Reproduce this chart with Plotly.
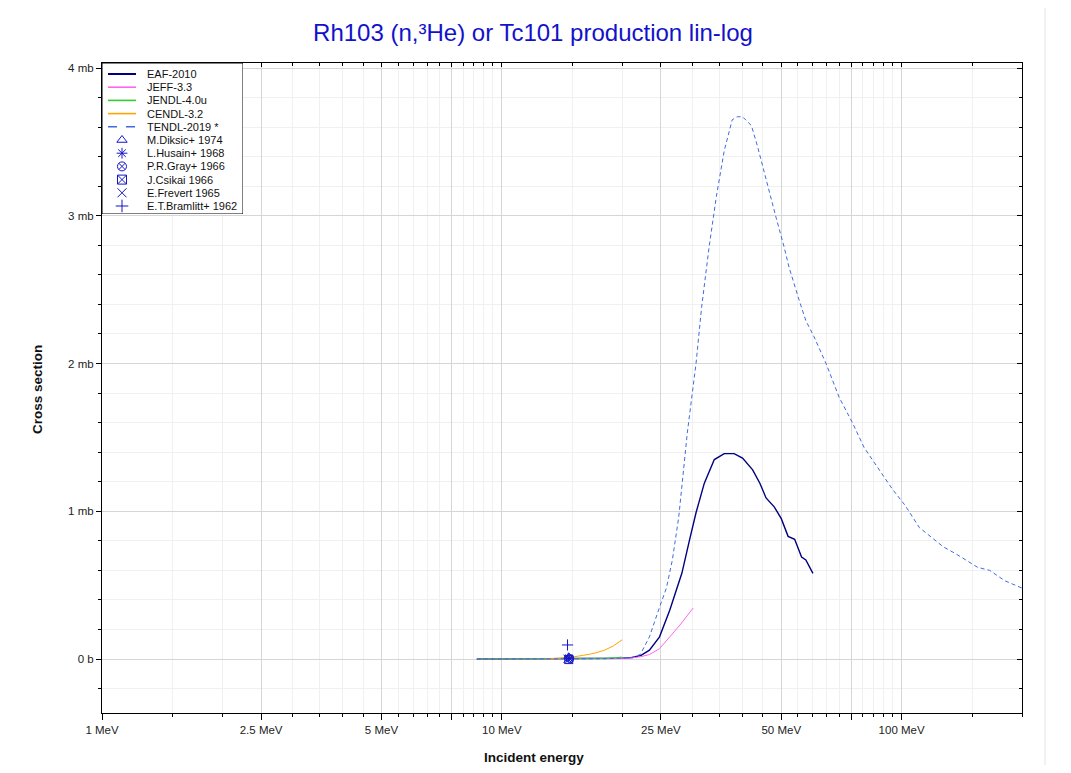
import math
import plotly.graph_objects as go

# ---------------- data (energies in MeV, cross sections in mb) ----------------
eaf_e = [8.66, 10, 12, 14, 16, 18, 20, 21.2, 22.3, 23.4, 24.8, 26.3, 27.0, 28.2, 29.5, 30.6,
         32.1, 34.0, 36.0, 38.1, 40.0, 42.4, 44.2, 45.8, 48.0, 50.0, 52.0, 54.0, 56.2, 57.6, 60.0]
eaf_s = [0, 0, 0, 0.0005, 0.001, 0.002, 0.005, 0.01, 0.025, 0.06, 0.15, 0.33, 0.42, 0.58, 0.81, 0.99,
         1.19, 1.35, 1.39, 1.39, 1.36, 1.28, 1.19, 1.09, 1.03, 0.95, 0.83, 0.81, 0.69, 0.67, 0.58]

jeff_e = [8.66, 10, 12, 14, 16, 18, 20, 21.2, 22.2, 23.4, 24.8, 26.3, 27.9, 30.1]
jeff_s = [0, 0, 0, 0.0005, 0.001, 0.002, 0.004, 0.008, 0.015, 0.03, 0.07, 0.15, 0.23, 0.345]

jendl_e = [8.66, 10, 12, 14, 16, 18, 19, 20]
jendl_s = [0, 0, 0, 0.0005, 0.002, 0.005, 0.008, 0.013]

cendl_e = [13, 14, 15, 16, 17, 18, 19, 20]
cendl_s = [0, 0.005, 0.013, 0.025, 0.038, 0.058, 0.088, 0.13]

tendl_e = [8.66, 10, 12, 14, 16, 18, 20, 21.2, 22.2, 23.4, 24.8, 25.8, 26.7, 27.7, 29.1, 30.6,
           31.6, 33.0, 34.4, 36.0, 37.7, 38.8, 40.0, 42.1, 43.6, 45.8, 48.5, 50.8, 52.3, 55.4,
           57.6, 60.4, 64.7, 69.8, 75.3, 80.6, 87.5, 94.8, 102, 110.7, 127, 137, 155, 166, 181, 200]
tendl_s = [0, 0, 0, 0.0005, 0.001, 0.002, 0.006, 0.012, 0.03, 0.15, 0.35, 0.48, 0.67, 0.96, 1.53, 2.00,
           2.38, 2.79, 3.13, 3.44, 3.65, 3.67, 3.67, 3.61, 3.47, 3.24, 2.99, 2.79, 2.65, 2.43,
           2.29, 2.18, 2.00, 1.77, 1.60, 1.43, 1.29, 1.15, 1.04, 0.89, 0.76, 0.71, 0.62, 0.60, 0.53, 0.48]

exp_names = ["M.Diksic+ 1974", "L.Husain+ 1968", "P.R.Gray+ 1966", "J.Csikai 1966",
             "E.Frevert 1965", "E.T.Bramlitt+ 1962"]
exp_e = [14.7, 14.7, 14.8, 14.7, 14.6, 14.6]
exp_s = [0.015, 0.008, 0.003, -0.004, 0.002, 0.095]
exp_symbols = ["triangle-up-open", "asterisk-open", "circle-x-open", "square-x-open",
               "x-thin-open", "cross-thin-open"]

x_tickvals = [1, 2.5, 5, 7.5, 10, 25, 50, 75, 100]
x_ticktext = ["1 MeV", "2.5 MeV", "5 MeV", "", "10 MeV", "25 MeV", "50 MeV", "", "100 MeV"]
x_minor = ([1 + 0.5 * i for i in range(1, 18)] + [15, 20, 30, 35, 40, 45, 55, 60, 65, 70,
                                                  80, 85, 90, 95, 150, 200])
x_minor = [v for v in x_minor if v not in x_tickvals]
y_tickvals = [0, 1, 2, 3, 4]
y_ticktext = ["0 b", "1 mb", "2 mb", "3 mb", "4 mb"]
y_minor = [round(-0.2 + 0.2 * i, 1) for i in range(21)]
y_minor = [v for v in y_minor if v not in y_tickvals]

# ---------------- styles ----------------
lines = [
    ("EAF-2010", eaf_e, eaf_s, "#000080", 1.4, "solid"),
    ("JEFF-3.3", jeff_e, jeff_s, "#FF66EE", 1.0, "solid"),
    ("JENDL-4.0u", jendl_e, jendl_s, "#33CC33", 1.0, "solid"),
    ("CENDL-3.2", cendl_e, cendl_s, "#FFA500", 1.0, "solid"),
    ("TENDL-2019 *", tendl_e, tendl_s, "#4169E1", 1.0, "dash"),
]
mcolor = "#1515C8"
font = "Liberation Sans, Arial, sans-serif"

OFF = 8  # page body margin
W, H = 1055, 757
L, R, T, B = 102 - OFF, 1022 - OFF, 63 - OFF, 713 - OFF
ZERO_Y = 659 - OFF
PX_PER_MB = 147.75

fig = go.Figure()
for name, xe, ys, col, lw, dash in lines:
    fig.add_trace(go.Scatter(x=xe, y=ys, mode="lines", name=name,
                             line=dict(color=col, width=lw, dash=("4px,3px" if dash == "dash" else dash)),
                             showlegend=False))
for nm, xe, ys, sym in zip(exp_names, exp_e, exp_s, exp_symbols):
    fig.add_trace(go.Scatter(x=[xe], y=[ys], mode="markers", name=nm, showlegend=False,
                             marker=dict(symbol=sym, size=8, color=mcolor,
                                         line=dict(color=mcolor, width=1))))

# mirrored inside ticks on top/right
fig.add_trace(go.Scatter(x=[], y=[], xaxis="x2", yaxis="y2", showlegend=False))

# ---------------- custom legend in its own subplot ----------------
leg_w, leg_h = 141, 151
leg_rows = [l[0] for l in lines] + exp_names
step = 13.2
first = 11
def ry(i):
    return (leg_h - (first + i * step)) / leg_h

for i, (name, xe, ys, col, lw, dash) in enumerate(lines):
    fig.add_shape(type="line", xref="x3", yref="y3", x0=6 / leg_w, x1=34 / leg_w, y0=ry(i), y1=ry(i),
                  line=dict(color=col, width=(2 if i == 0 else 1.6), dash=("dash" if dash == "dash" else "solid")))
mk_y = [ry(len(lines) + j) for j in range(len(exp_names))]
fig.add_trace(go.Scatter(x=[20 / leg_w] * len(exp_names), y=mk_y, xaxis="x3", yaxis="y3",
                         mode="markers", showlegend=False, hoverinfo="skip",
                         marker=dict(symbol=exp_symbols, size=9, color=mcolor,
                                     line=dict(color=mcolor, width=1))))
for i, name in enumerate(leg_rows):
    fig.add_annotation(xref="x3", yref="y3", x=43 / leg_w, y=ry(i), text=name, showarrow=False,
                       xanchor="left", yanchor="middle", font=dict(family=font, size=11, color="#111"))
fig.add_shape(type="rect", xref="x3", yref="y3", x0=0, x1=1, y0=0, y1=1, layer="below",
              fillcolor="white", line=dict(color="black", width=1))

# ---------------- layout ----------------
pw, ph = R - L, B - T
ymin = (ZERO_Y - B) / PX_PER_MB
ymax = (ZERO_Y - T) / PX_PER_MB
xr = [0, math.log10(200)]

axis_font = dict(family=font, size=11.5, color="#222")
fig.update_layout(
    width=W, height=H,
    margin=dict(l=L, r=W - R, t=T, b=H - B, pad=0),
    paper_bgcolor="white", plot_bgcolor="white",
    showlegend=False,
    title=dict(text="Rh103 (n,³He) or Tc101 production lin-log", x=(533 - OFF - L) / pw, xref="paper",
               xanchor="center", y=1 - (33 - OFF) / H, yanchor="middle",
               font=dict(family=font, size=24, color="#1212CC")),
    xaxis=dict(type="log", range=xr, tickvals=x_tickvals, ticktext=x_ticktext,
               ticks="outside", ticklen=6, tickcolor="black", tickwidth=1,
               showline=True, linecolor="black", linewidth=1,
               showgrid=True, gridcolor="#d6d6d6", gridwidth=1, zeroline=False,
               tickfont=axis_font,
               minor=dict(tickvals=x_minor, ticks="outside", ticklen=3, tickcolor="black",
                          showgrid=True, gridcolor="#f0f0f0", gridwidth=1)),
    yaxis=dict(range=[ymin, ymax], tickvals=y_tickvals, ticktext=y_ticktext,
               ticks="outside", ticklen=5, tickcolor="black", tickwidth=1,
               showline=True, linecolor="black", linewidth=1,
               showgrid=True, gridcolor="#d6d6d6", gridwidth=1, zeroline=False,
               tickfont=axis_font,
               minor=dict(tickvals=y_minor, ticks="outside", ticklen=3, tickcolor="black",
                          showgrid=True, gridcolor="#f0f0f0", gridwidth=1)),
    xaxis2=dict(type="log", range=xr, overlaying="x", side="top", anchor="y2",
                tickvals=x_tickvals, showticklabels=False, ticks="inside", ticklen=4,
                tickcolor="black", showline=True, linecolor="black", linewidth=1,
                showgrid=False, zeroline=False,
                minor=dict(tickvals=x_minor, ticks="inside", ticklen=3, tickcolor="black", showgrid=False)),
    yaxis2=dict(range=[ymin, ymax], overlaying="y", side="right", anchor="x2",
                tickvals=y_tickvals, showticklabels=False, ticks="inside", ticklen=5,
                tickcolor="black", showline=True, linecolor="black", linewidth=1,
                showgrid=False, zeroline=False,
                minor=dict(tickvals=y_minor, ticks="inside", ticklen=3, tickcolor="black", showgrid=False)),
    xaxis3=dict(domain=[0, leg_w / pw], range=[0, 1], anchor="y3", visible=False, fixedrange=True),
    yaxis3=dict(domain=[1 - leg_h / ph, 1], range=[0, 1], anchor="x3", visible=False, fixedrange=True),
)

fig.add_annotation(xref="paper", yref="paper", x=(534 - OFF - L) / pw, y=(B - (757 - OFF)) / ph,
                   text="<b>Incident energy</b>", showarrow=False, xanchor="center", yanchor="middle",
                   font=dict(family=font, size=13.5, color="#111"))
fig.add_annotation(xref="paper", yref="paper", x=(37 - OFF - L) / pw, y=(B - (390 - OFF)) / ph,
                   text="<b>Cross section</b>", showarrow=False, textangle=-90,
                   xanchor="center", yanchor="middle", font=dict(family=font, size=13.5, color="#111"))

# faint right frame line of the page
fig.add_shape(type="line", xref="paper", yref="paper", x0=(1045 - OFF - L) / pw, x1=(1045 - OFF - L) / pw,
              y0=(B - H) / ph, y1=(B + OFF) / ph, line=dict(color="#e4e4e4", width=1), layer="below")

fig.write_html("out.html")
